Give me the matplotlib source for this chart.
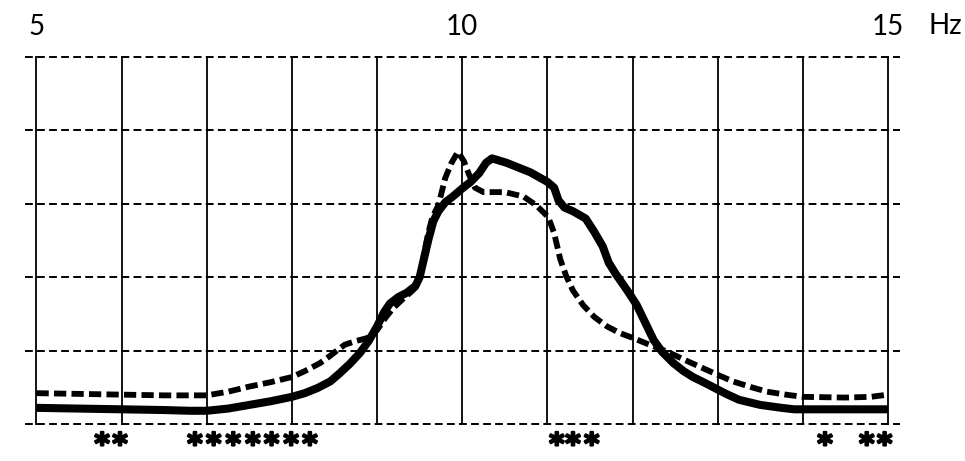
import numpy as np
import matplotlib
matplotlib.use("Agg")
import matplotlib.pyplot as plt
import matplotlib.patheffects as pe

# frequency (Hz) / relative power
solid_hz = [5.0, 5.5, 6.0, 6.5, 6.8, 7.0, 7.25, 7.5, 7.75, 8.0, 8.15, 8.3, 8.45,
            8.56, 8.68, 8.8, 8.9, 9.0, 9.08, 9.15, 9.25, 9.35, 9.45, 9.5, 9.55,
            9.6, 9.66, 9.72, 9.8, 9.9, 10.0, 10.1, 10.2, 10.28, 10.35, 10.52,
            10.8, 11.0, 11.08, 11.13, 11.2, 11.3, 11.45, 11.55, 11.65, 11.72,
            11.8, 11.95, 12.05, 12.15, 12.25, 12.35, 12.48, 12.6, 12.71, 12.85,
            12.95, 13.1, 13.25, 13.5, 13.75, 13.9, 14.2, 14.6, 15.0]
solid_val = [0.22, 0.21, 0.20, 0.19, 0.18, 0.18, 0.21, 0.26, 0.31, 0.37, 0.42,
             0.49, 0.58, 0.69, 0.82, 0.97, 1.13, 1.33, 1.52, 1.64, 1.73, 1.79,
             1.88, 2.0, 2.25, 2.5, 2.76, 2.90, 3.02, 3.11, 3.21, 3.30, 3.42,
             3.56, 3.62, 3.56, 3.43, 3.30, 3.22, 3.05, 2.95, 2.90, 2.80, 2.62,
             2.42, 2.20, 2.05, 1.80, 1.62, 1.38, 1.14, 0.98, 0.83, 0.72, 0.64,
             0.56, 0.50, 0.41, 0.33, 0.26, 0.22, 0.20, 0.20, 0.20, 0.20]

dashed_hz = [5.0, 5.5, 6.0, 6.5, 7.0, 7.25, 7.5, 7.75, 8.0, 8.15, 8.33, 8.45,
             8.55, 8.62, 8.75, 8.88, 8.95, 9.0, 9.1, 9.19, 9.3, 9.4, 9.47, 9.52,
             9.56, 9.6, 9.65, 9.72, 9.8, 9.87, 9.95, 10.02, 10.08, 10.15, 10.25,
             10.5, 10.72, 10.87, 11.01, 11.08, 11.15, 11.22, 11.3, 11.42, 11.55,
             11.7, 11.85, 12.01, 12.2, 12.4, 12.6, 12.79, 13.0, 13.18, 13.4,
             13.58, 13.8, 14.0, 14.5, 14.8, 15.0]
dashed_val = [0.42, 0.41, 0.40, 0.39, 0.39, 0.44, 0.51, 0.57, 0.64, 0.72, 0.83,
              0.93, 1.02, 1.08, 1.13, 1.17, 1.22, 1.28, 1.45, 1.58, 1.70, 1.80,
              1.88, 2.1, 2.37, 2.6, 2.82, 2.98, 3.35, 3.55, 3.71, 3.58, 3.40,
              3.22, 3.16, 3.16, 3.10, 2.98, 2.82, 2.60, 2.25, 2.02, 1.82, 1.62,
              1.46, 1.33, 1.24, 1.17, 1.08, 0.99, 0.88, 0.78, 0.67, 0.58, 0.50,
              0.44, 0.40, 0.37, 0.36, 0.37, 0.40]

# significance marks
star_hz = [5.77, 5.98, 6.86, 7.08, 7.31, 7.54, 7.76, 7.99, 8.21,
           11.11, 11.30, 11.52, 14.26, 14.75, 14.96]

tick_hz = [5, 10, 15]
tick_labels = ["5", "10", "15"]

label_font = ["Lato", "DejaVu Sans"]

fig = plt.figure(figsize=(9.65, 4.61), dpi=100)
ax = fig.add_axes([0.0259, 0.0787, 0.9067, 0.799])
ax.set_xlim(4.865, 15.141)
ax.set_ylim(-0.01, 5.01)

# grid: solid verticals every Hz, dashed horizontals
ax.set_xticks(tick_hz)
ax.set_xticklabels(tick_labels, fontsize=20, family=label_font)
ax.set_xticks(np.arange(5, 16, 1), minor=True)
ax.set_yticks(np.arange(0, 6, 1))
ax.tick_params(axis="x", which="both", length=0, top=True, bottom=False,
               labeltop=True, labelbottom=False, pad=12)
ax.tick_params(axis="y", length=0, labelleft=False)
ax.xaxis.grid(True, which="both", color="black", lw=1.3, ls="-")
ax.yaxis.grid(True, color="black", lw=1.4, ls=(0, (4.0, 2.2)))
for s in ax.spines.values():
    s.set_visible(False)

ax.plot(solid_hz, solid_val, color="black", lw=5.8, solid_joinstyle="round",
        solid_capstyle="butt", zorder=3)
ax.plot(dashed_hz, dashed_val, color="black", lw=4.2, ls=(0, (2.1, 0.9)),
        dash_capstyle="butt", zorder=3)

ax.text(15.67, 5.43, "Hz", fontsize=20, family=label_font,
        ha="center", va="center", clip_on=False)

# star text kept inside the figure edge, stroked to look heavier
for h in star_hz:
    ax.text(h, -0.485, "*", fontsize=21, fontweight="bold",
            family="DejaVu Sans", ha="center", va="bottom", clip_on=False,
            path_effects=[pe.withStroke(linewidth=1.6, foreground="black")])

fig.savefig("out.png", dpi=100)
